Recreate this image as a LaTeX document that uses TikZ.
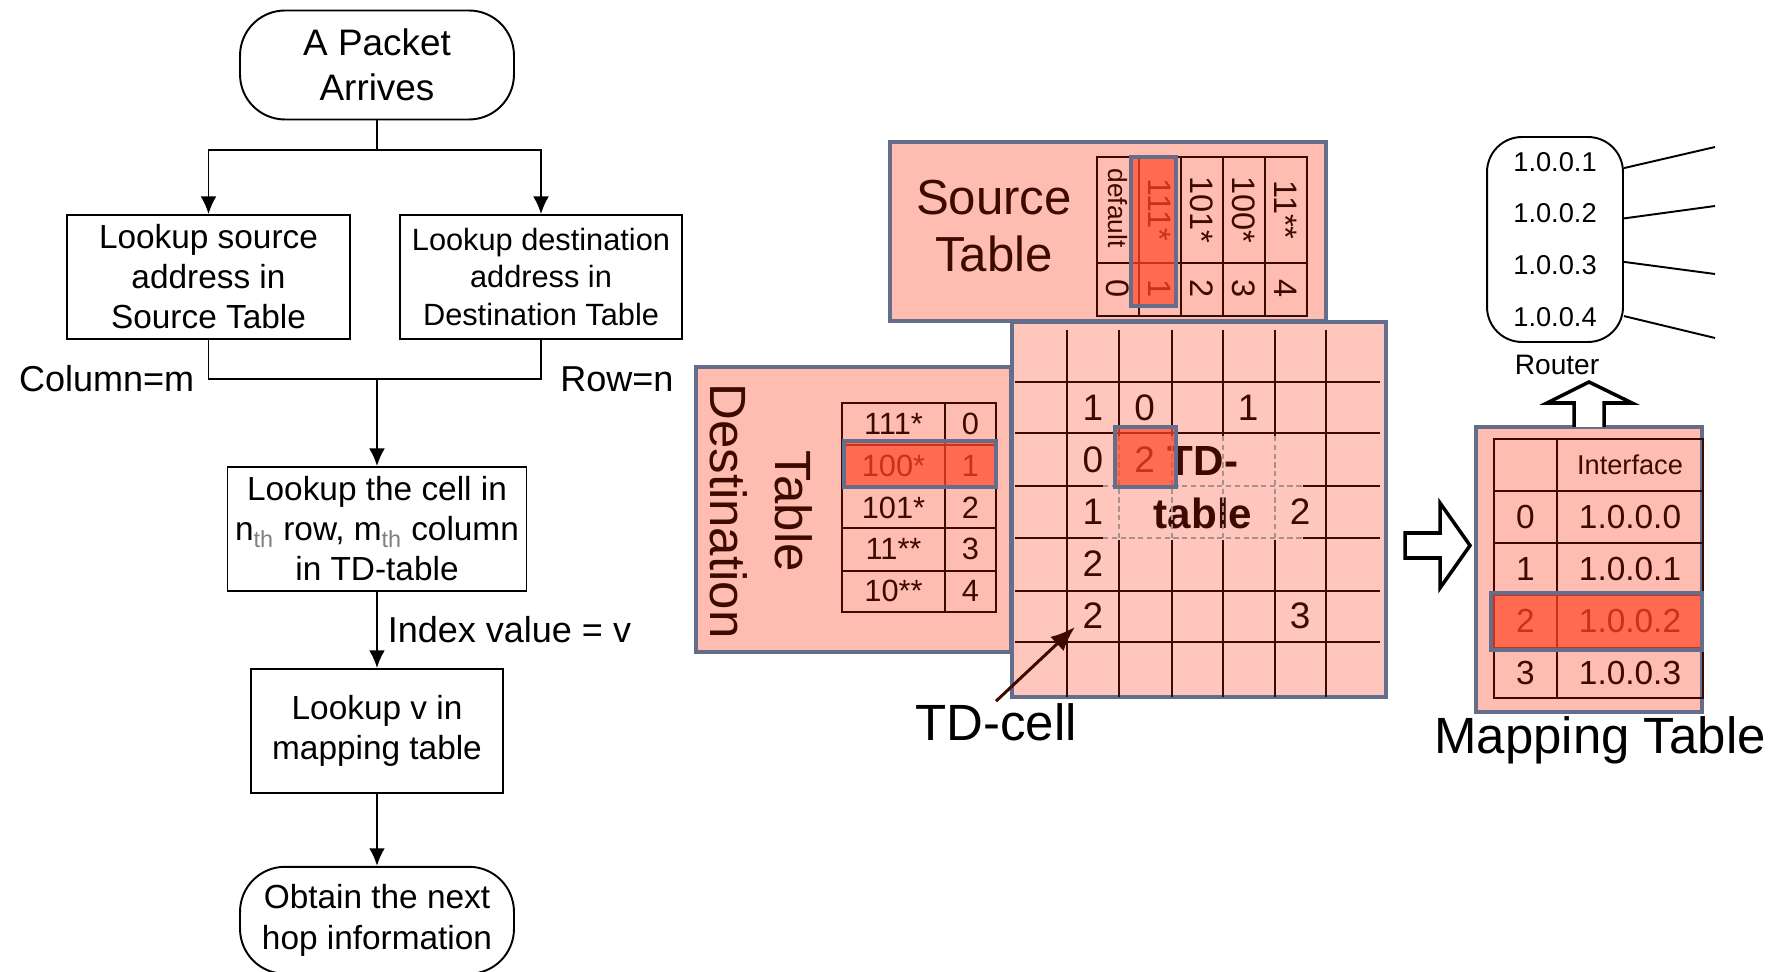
\documentclass[tikz,border=0pt]{standalone}
\usepackage{fontspec}
\setmainfont{Liberation Sans}
\usetikzlibrary{positioning}
\usetikzlibrary{arrows.meta}

\definecolor{salmone}{RGB}{255,189,178}
\definecolor{salmonetd}{RGB}{255,198,190}
\definecolor{bordo}{RGB}{100,109,139}
\definecolor{bruno}{RGB}{60,10,0}
\definecolor{rosso}{RGB}{255,71,39}

\begin{document}
\begin{tikzpicture}[x=0.02cm,y=-0.02cm,align=center,
terminale/.style={draw,line width=1.1pt,rounded corners=0.9cm,inner sep=0pt,minimum width=5.48cm},
blocco/.style={draw,line width=1.1pt,inner sep=0pt,minimum height=2.48cm,font=\fontsize{19}{22.8}\selectfont},
etichetta/.style={font=\fontsize{20.5}{24}\selectfont},
freccia/.style={line width=1.1pt,-{Latex[length=10pt,width=9pt]}},
pannello/.style={fill=salmone,draw=bordo,line width=1.9pt},
linea/.style={draw=bruno,line width=1.2pt},
tratto/.style={draw=bruno!45,line width=0.6pt,densely dashed},
evidenzia/.style={fill=rosso,fill opacity=0.7,draw=bordo,line width=1.9pt},
cifra/.style={text=bruno,inner sep=0pt,font=\fontsize{17.5}{21}\selectfont},
cifrav/.style={cifra,rotate=-90,font=\fontsize{18.5}{21}\selectfont},
cifratd/.style={text=bruno,inner sep=0pt,font=\fontsize{21}{25}\selectfont},
titolo/.style={text=bruno,font=\fontsize{28}{32}\selectfont},
contorno/.style={draw,fill=white,line width=2pt,line join=miter}
]
\useasboundingbox (0,0) rectangle (1781,972);
%-- flowchart
\node[terminale,minimum height=2.18cm,font=\fontsize{21}{25.5}\selectfont] (arrivo) at (377,65) {A Packet\\Arrives};
\node[blocco,minimum width=5.66cm] (sorg) at (208.5,277) {Lookup source\\address in\\Source Table};
\node[blocco,minimum width=5.64cm,font=\fontsize{17.5}{21.3}\selectfont] (dest) at (541,277) {Lookup destination\\address in\\Destination Table};
\coordinate (bivio) at (377,150);
\draw[line width=1.1pt] (arrivo) -- (bivio);
\draw[freccia] (bivio) -| (sorg);
\draw[freccia] (bivio) -| (dest);
%--
\coordinate (unione) at (377,379);
\draw[line width=1.1pt] (sorg) |- node[etichetta,left,xshift=-0.15cm]{Column=m} (unione);
\draw[line width=1.1pt] (dest) |- node[etichetta,right,xshift=0.25cm]{Row=n} (unione);
\node[blocco,minimum width=5.98cm] (cella) at (377,529) {Lookup the cell in\\n\textsubscript{\color{gray}th} row, m\textsubscript{\color{gray}th} column\\in TD-table};
\draw[freccia] (unione) -- (cella);
%--
\node[blocco,minimum width=5.04cm,below=1.52cm of cella] (mappa) {Lookup v in\\mapping table};
\draw[freccia] (cella) -- node[etichetta,right,xshift=0.08cm]{Index value = v} (mappa);
\node[terminale,minimum height=2.14cm,font=\fontsize{19}{23}\selectfont,below=1.44cm of mappa] (fine) {Obtain the next\\hop information};
\draw[freccia] (mappa) -- (fine);
%-- source table
\draw[pannello] (890,142) rectangle (1326,321);
\node[titolo] (titsorg) at (994,226) {Source\\Table};
\draw[linea] (1097,157) rectangle (1307,316);
\draw[linea] (1097,263) -- (1307,263);
\foreach \x in {1139,1181,1223,1265} \draw[linea] (\x,157) -- (\x,316);
\node[cifrav,font=\fontsize{15}{18}\selectfont] (sp0) at (1118,208) {default};
\foreach \p [count=\i] in {111*,101*,100*,11**} \node[cifrav] (sp\i) at (1118+42*\i,210) {\p};
\foreach \i in {0,...,4} \node[cifrav] (sv\i) at (1118+42*\i,289) {\i};
\draw[evidenzia] (1131,157) rectangle (1176,306);
%-- destination table
\draw[pannello] (696,367) rectangle (1011,652);
\node[titolo,rotate=-90,font=\fontsize{29}{37}\selectfont] (titdest) at (761,511) {Table\\Destination};
\draw[linea] (842,403) rectangle (996,612);
\draw[linea] (945,403) -- (945,612);
\foreach \y in {445,487,528,571} \draw[linea] (842,\y) -- (996,\y);
\foreach \p/\v [count=\i from 0] in {111*/0,100*/1,101*/2,11**/3,10**/4} {
  \node[cifra] (dp\i) at (893.5,424+41.8*\i) {\p};
  \node[cifra] (dv\i) at (970.5,424+41.8*\i) {\v};
}
\draw[evidenzia] (844,441) rectangle (996,487);
%-- TD-table
\draw[pannello,fill=salmonetd] (1012,322) rectangle (1386,697);
\foreach \x in {1067,1119,1172,1223,1275,1326} \draw[linea] (\x,330) -- (\x,697);
\foreach \y in {382,433,486,538,591,642} \draw[linea] (1015,\y) -- (1380,\y);
\node[fill=salmonetd,minimum width=4cm,minimum height=2.08cm,inner sep=0pt,text=bruno,font=\bfseries\fontsize{24}{30}\selectfont] (tdtab) at (1203,488) {TD-\\table};
\foreach \y in {486,538} \draw[tratto] (1103,\y) -- (1303,\y);
\foreach \x in {1119,1172,1223,1275} \draw[tratto] (\x,436) -- (\x,540);
\foreach \c/\r/\v in {1/1/1,2/1/0,4/1/1,1/2/0,2/2/2,1/3/1,5/3/2,1/4/2,1/5/2,5/5/3}
  \node[cifratd] (td-\c-\r) at (1041+51.8*\c,356+52*\r) {\v};
\draw[evidenzia] (1115,427) rectangle (1176,487);
%--
\node[inner sep=1pt,font=\fontsize{29}{35}\selectfont] (tdcella) at (996,722) {TD-cell};
\coordinate (puntocella) at (1075,627);
\draw[line width=1.7pt,draw=bruno,-{Latex[length=14pt,width=11pt]}] (tdcella.north) -- (puntocella);
%-- mapping table
\draw[contorno] (1405,533) -- (1440,533) -- (1440,503) -- (1470,545.5) -- (1440,588) -- (1440,558) -- (1405,558) -- cycle;
\draw[pannello] (1476,427) rectangle (1702,712);
\draw[linea] (1494,439) rectangle (1703,698);
\draw[linea] (1557,439) -- (1557,698);
\foreach \y in {491,543,595,648} \draw[linea] (1494,\y) -- (1703,\y);
\node[cifra,font=\fontsize{15.5}{18}\selectfont] (intest) at (1630,465) {Interface};
\foreach \v [count=\i from 0] in {1.0.0.0,1.0.0.1,1.0.0.2,1.0.0.3} {
  \node[cifra,font=\fontsize{19}{22}\selectfont] (mi\i) at (1525.5,517+52*\i) {\i};
  \node[cifra,font=\fontsize{19}{22}\selectfont] (mv\i) at (1630,517+52*\i) {\v};
}
\draw[evidenzia] (1491,593) rectangle (1702,650);
\node[font=\fontsize{29}{35}\selectfont] (titmappa) at (1600,740) {Mapping Table};
%-- router
\draw[contorno] (1574,427) -- (1574,403) -- (1547,403) -- (1589,382) -- (1632,403) -- (1604,403) -- (1604,427);
\node[draw,line width=1.1pt,rounded corners=0.7cm,minimum width=2.72cm,minimum height=4.1cm,font=\fontsize{15.5}{29.5}\selectfont] (router) at (1555,239.5) {1.0.0.1\\1.0.0.2\\1.0.0.3\\1.0.0.4};
\node[font=\fontsize{16}{19}\selectfont] (rlab) at (1557,365) {Router};
\foreach \a/\y [count=\i] in {46/147,17/206,-18/274,-48/338} {
  \coordinate (porta\i) at (1715,\y);
  \draw[line width=1.1pt] (router.\a) -- (porta\i);
}
\end{tikzpicture}
\end{document}
